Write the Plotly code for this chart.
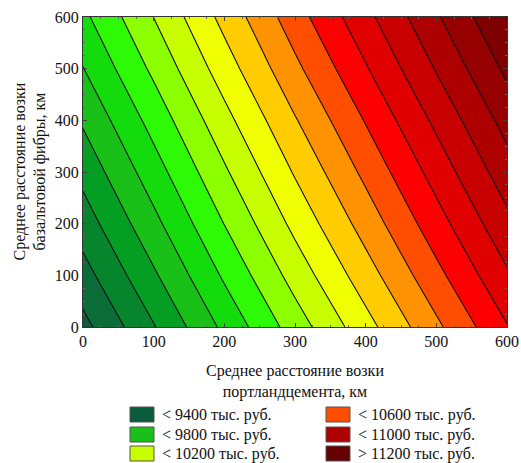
import plotly.graph_objects as go

# Average haul distance of Portland cement, km (x) and basalt fibre, km (y)
cement_km = [0, 100, 200, 300, 400, 500, 600]
fibre_km = [0, 100, 200, 300, 400, 500, 600]

# Total cost, thousand rubles; rows follow fibre_km, columns follow cement_km
cost = [
    [9369, 9593, 9823, 10048, 10263, 10479, 10694],
    [9461, 9685, 9915, 10140, 10355, 10571, 10786],
    [9548, 9772, 10002, 10227, 10442, 10658, 10873],
    [9631, 9855, 10085, 10310, 10525, 10741, 10956],
    [9713, 9937, 10167, 10392, 10607, 10823, 11038],
    [9797, 10021, 10251, 10476, 10691, 10907, 11122],
    [9877, 10101, 10331, 10556, 10771, 10987, 11202],
]

# Contour levels, thousand rubles
level_start = 9400
level_end = 11200
level_step = 100

# Fill colour of each band, from "< 9400" up to "> 11200"
band_colors = [
    "#0B5B3D", "#0A6C36", "#06852C", "#049E22", "#18C018",
    "#14DC0C", "#2EFA06", "#8CFF00", "#C8FF00", "#F0FF00",
    "#FFCC00", "#FF9200", "#FF4E00", "#FF0000", "#E00000",
    "#C80000", "#AE0000", "#960000", "#7E0000", "#660000",
]

# Legend entries: band index and caption
legend_bands = [0, 4, 8, 12, 16, 19]
legend_labels = [
    "< 9400 тыс. руб.", "< 9800 тыс. руб.", "< 10200 тыс. руб.",
    "< 10600 тыс. руб.", "< 11000 тыс. руб.", "> 11200 тыс. руб.",
]

FONT = "Times New Roman, Liberation Serif, DejaVu Serif, serif"
W, H = 521, 463
L, R, T, B = 83, 14, 17, 136

n = len(band_colors) - 1
colorscale = [[i / n, c] for i, c in enumerate(band_colors)]

fig = go.Figure(
    go.Contour(
        x=cement_km,
        y=fibre_km,
        z=cost,
        autocontour=False,
        contours=dict(start=level_start, end=level_end, size=level_step,
                      coloring="fill"),
        colorscale=colorscale,
        showscale=False,
        line=dict(color="#111111", width=1.1, smoothing=0),
        hoverinfo="skip",
    )
)

axis_common = dict(
    range=[0, 600], dtick=100, showgrid=False, zeroline=False,
    automargin=False,
    ticks="inside", ticklen=4, tickcolor="#444444",
    minor=dict(ticks="inside", ticklen=2, dtick=25, tickcolor="#666666"),
    showline=True, linecolor="#333333", linewidth=1, mirror="ticks",
    tickfont=dict(family=FONT, size=16, color="#111111"),
)

fig.update_xaxes(**axis_common)
fig.update_yaxes(**axis_common)

pw = W - L - R
ph = H - T - B


def px_x(px):
    return (px - L) / pw


def px_y(py):
    return (H - B - py) / ph


annotations = [
    dict(text="Среднее расстояние возки<br>портландцемента, км",
         x=px_x(295), y=px_y(360), xref="paper", yref="paper",
         xanchor="center", yanchor="top", showarrow=False, align="center",
         font=dict(family=FONT, size=16, color="#111111")),
    dict(text="Среднее расстояние возки<br>базальтовой фибры, км",
         x=px_x(8), y=px_y(172), xref="paper", yref="paper",
         xanchor="left", yanchor="middle", showarrow=False, align="center",
         textangle=-90,
         font=dict(family=FONT, size=16, color="#111111")),
]

shapes = []
col_x = [130, 326]
row_y = [407, 427, 446]
sw_w, sw_h = 24, 15
for k, (band, label) in enumerate(zip(legend_bands, legend_labels)):
    cx = col_x[k // 3]
    ry = row_y[k % 3]
    shapes.append(dict(
        type="rect", xref="paper", yref="paper",
        x0=px_x(cx), x1=px_x(cx + sw_w), y0=px_y(ry + sw_h), y1=px_y(ry),
        fillcolor=band_colors[band], line=dict(color="#555555", width=1),
    ))
    annotations.append(dict(
        text=label, x=px_x(cx + sw_w + 6), y=px_y(ry + sw_h / 2),
        xref="paper", yref="paper", xanchor="left", yanchor="middle",
        showarrow=False, font=dict(family=FONT, size=16, color="#111111"),
    ))

fig.update_layout(
    width=W, height=H,
    margin=dict(l=L, r=R, t=T, b=B),
    paper_bgcolor="white", plot_bgcolor="white",
    font=dict(family=FONT),
    annotations=annotations, shapes=shapes,
    showlegend=False,
)

fig.write_html("out.html")
